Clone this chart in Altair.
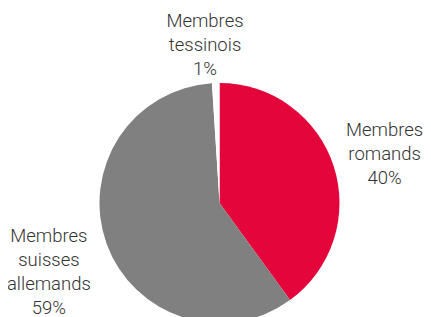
import altair as alt
import pandas as pd

categories = ["Membres romands", "Membres suisses allemands", "Membres tessinois"]
values = [40, 59, 1]
labels = ["Membres\nromands\n40%", "Membres\nsuisses\nallemands\n59%", "Membres\ntessinois\n1%"]
colors = ["#E4063B", "#808080", "#FFFFFF"]
order_idx = [0, 1, 2]

df = pd.DataFrame({"cat": categories, "val": values, "label": labels, "idx": order_idx})

CX, CY = 211.5, 195
theta = alt.Theta("val:Q", stack=True)
color = alt.Color("cat:N", sort=categories,
                  scale=alt.Scale(domain=categories, range=colors), legend=None)

base = alt.Chart(df)
pie = base.mark_arc(outerRadius=120, strokeWidth=0).encode(
    theta=theta, color=color, x=alt.value(CX), y=alt.value(CY),
    order=alt.Order("idx:Q"))

FS = 18.5
LH = 23.8

def lab(i, r, dx, dy):
    return base.mark_text(radius=r, dx=dx, dy=dy, font="Roboto", fontWeight=300,
                          fontSize=FS, lineHeight=LH, lineBreak="\n", color="#333333",
                          align="center", baseline="middle").encode(
        theta=theta, order=alt.Order("idx:Q"), x=alt.value(CX), y=alt.value(CY),
        text=alt.condition(alt.datum.cat == categories[i], "label:N", alt.value("")))

t_rom = lab(0, 171, 2.5, -20)
t_all = lab(1, 184, 2.5, -29)
t_tes = lab(2, 159, -9.5, -23)

chart = alt.layer(pie, t_rom, t_all, t_tes).properties(
    width=415, height=309, padding=0, background="#FFFFFF",
    autosize=alt.AutoSizeParams(type="none")
).configure_view(strokeWidth=0, stroke="transparent")

chart.save("out.html", embed_options={"renderer": "svg", "actions": False})
